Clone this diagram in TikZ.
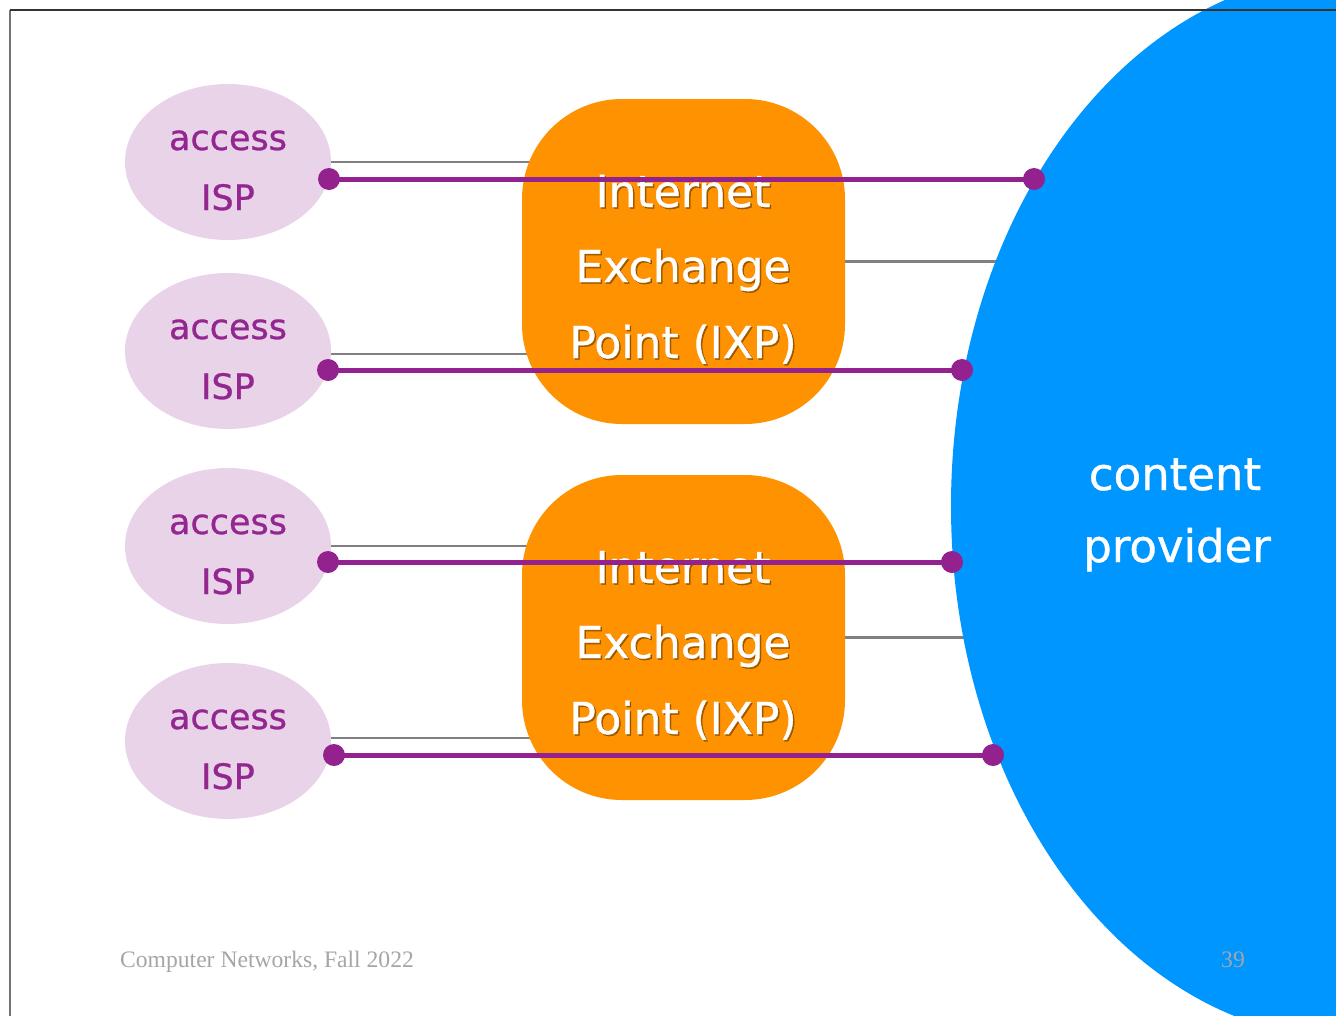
\documentclass[tikz,border=0pt]{standalone}
\usepackage{fontspec}
\setmainfont{DejaVu Sans}
\newfontfamily\comicfont{DejaVu Sans}[FakeBold=0.8]
\newfontfamily\footfont{Liberation Serif}
\usetikzlibrary{shapes.geometric,backgrounds}
\definecolor{ispfill}{HTML}{E8D3E9}
\definecolor{isptext}{HTML}{93268F}
\definecolor{ixporange}{HTML}{FF9200}
\definecolor{provblue}{HTML}{0096FF}
\definecolor{linkpurple}{HTML}{93228F}
\definecolor{footgray}{HTML}{A6A6A6}
\begin{document}
\begin{tikzpicture}[x=1pt,y=-1pt,
  ispnode/.style={ellipse, fill=ispfill, minimum width=206pt, minimum height=156pt, inner sep=0pt},
  ixpnode/.style={rectangle, rounded corners=100pt, fill=ixporange, minimum width=323pt, minimum height=325pt, inner sep=0pt},
  provnode/.style={ellipse, fill=provblue, minimum width=800pt, minimum height=1066pt, inner sep=0pt},
  graylink/.style={draw=black!50, line width=2.2pt},
  purplelink/.style={draw=linkpurple, line width=5pt},
  enddot/.style={circle, fill=linkpurple, minimum size=22pt, inner sep=0pt},
  isplabel/.style={text=isptext, font=\comicfont\fontsize{35}{36}\selectfont, anchor=base, inner sep=0pt},
  ixplabel/.style={text=white, font=\comicfont\fontsize{44}{45}\selectfont, anchor=base, inner sep=0pt},
  ixpshadow/.style={text=black, opacity=0.35, font=\comicfont\fontsize{44}{45}\selectfont, anchor=base, inner sep=0pt},
  provlabel/.style={text=white, font=\comicfont\fontsize{45}{46}\selectfont, anchor=base, inner sep=0pt},
  footlabel/.style={text=footgray, font=\footfont\fontsize{23.6}{24}\selectfont, inner sep=0pt}
]
\useasboundingbox (0,0) rectangle (1336,1015);
\clip (0,0) rectangle (1336,1015);

% content provider
\node[provnode] (prov) at (1351,506) {};
\node[provlabel] (provt1) at (1175,490) {content};
\node[provlabel] (provt2) at (1177,562) {provider};

% access ISPs
\node[ispnode] (isp1) at (228,162) {};
\node[ispnode] (isp2) at (228,351) {};
\node[ispnode] (isp3) at (228,546) {};
\node[ispnode] (isp4) at (228,741) {};
\foreach \n/\cy in {1/162,2/351,3/546,4/741}{
  \node[isplabel] (ispa\n) at (228,\cy-12) {access};
  \node[isplabel] (ispb\n) at (228,\cy+48) {ISP};
}

% IXPs
\node[ixpnode] (ixp1) at (683.5,261.5) {};
\node[ixpnode] (ixp2) at (683.5,637.5) {};
\foreach \n/\by in {1/0,2/376}{
  \node[ixpshadow] at (684.5,208.5+\by) {Internet};
  \node[ixpshadow] at (684.5,283.5+\by) {Exchange};
  \node[ixpshadow] at (684.5,359.5+\by) {Point (IXP)};
  \node[ixplabel] (ixpa\n) at (683,207+\by) {Internet};
  \node[ixplabel] (ixpb\n) at (683,282+\by) {Exchange};
  \node[ixplabel] (ixpc\n) at (683,358+\by) {Point (IXP)};
}

% gray links (behind)
\begin{pgfonlayer}{background}
  \fill[white] (0,0) rectangle (1336,1015);
  \draw[graylink] (isp1.center) -- (isp1.center -| ixp1.center);
  \draw[graylink] ([yshift=-3pt]isp2.center) -- ([yshift=-3pt]isp2.center -| ixp1.center);
  \draw[graylink] (isp3.center) -- (isp3.center -| ixp2.center);
  \draw[graylink] ([yshift=3pt]isp4.center) -- ([yshift=3pt]isp4.center -| ixp2.center);
  \draw[graylink] (ixp1.center) -- (ixp1.center -| prov.center);
  \draw[graylink] (ixp2.center) -- (ixp2.center -| prov.center);
\end{pgfonlayer}

% purple links
\node[enddot] (s1) at (329,179) {};
\node[enddot] (e1) at (1034,179) {};
\node[enddot] (s2) at (328,370) {};
\node[enddot] (e2) at (962,370) {};
\node[enddot] (s3) at (328,562) {};
\node[enddot] (e3) at (952,562) {};
\node[enddot] (s4) at (334,755) {};
\node[enddot] (e4) at (993,755) {};
\foreach \n in {1,2,3,4}{
  \draw[purplelink] (s\n.center) -- (e\n.center);
}

% footer
\node[footlabel, anchor=base west] (foot) at (120,967) {Computer Networks, Fall 2022};
\node[footlabel, anchor=base] (page) at (1233,967) {39};

% frame
\draw[black!55, line width=1.5pt] (10,1016) -- (10,10);
\draw[black!80, line width=1.5pt] (10,10) -- (1337,10);
\end{tikzpicture}
\end{document}
